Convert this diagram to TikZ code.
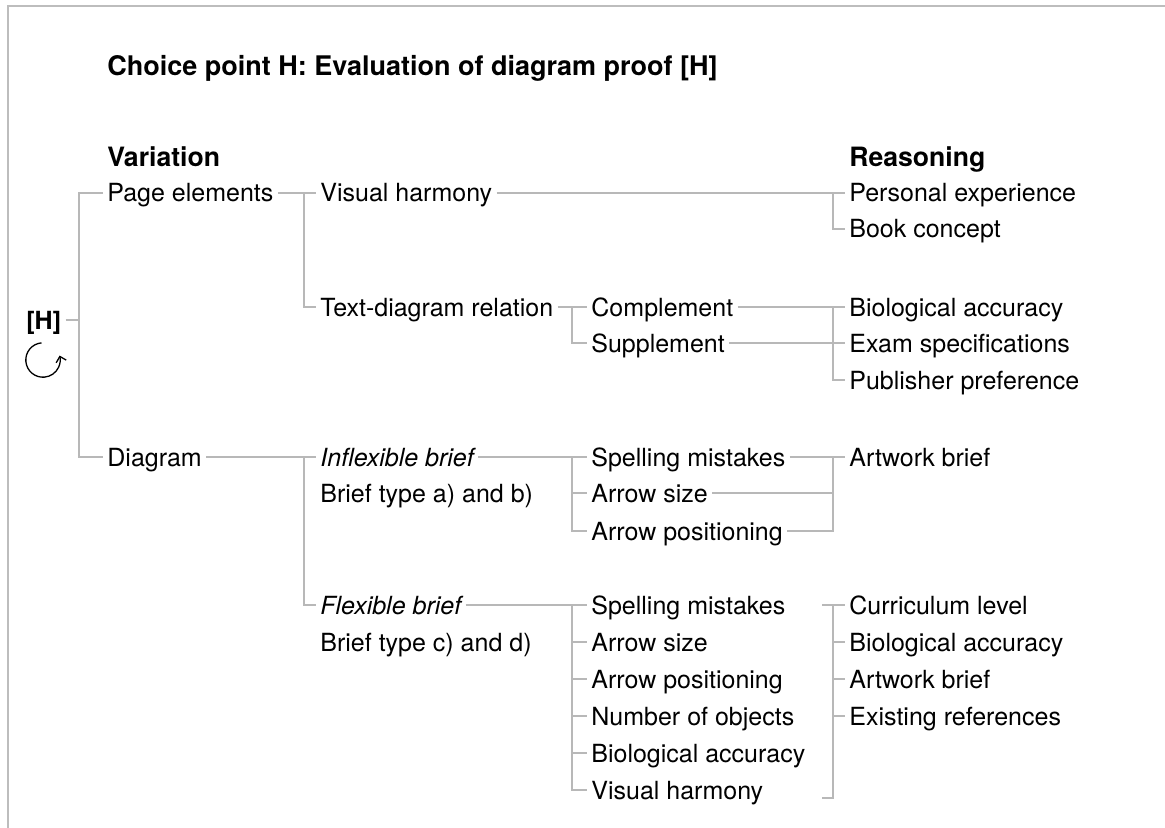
\documentclass[tikz,border=0pt]{standalone}
\usepackage{fontspec}
\setmainfont{TeX Gyre Heros}
\usepackage{tikz}
\usetikzlibrary{arrows.meta,calc}
\definecolor{frameGrey}{HTML}{BDBDBD}
\definecolor{linkGrey}{HTML}{B8B8B8}

\begin{document}
\begin{tikzpicture}[
    x=0.5pt, y=-0.5pt,
    font=\fontsize{12.5}{15}\selectfont,
    lbl/.style={anchor=west, inner xsep=2pt, inner ysep=0pt, text height=9pt, text depth=0pt},
    head/.style={lbl, text height=9.6pt, font=\fontsize{13.3}{16}\selectfont\bfseries},
    link/.style={draw=linkGrey, line width=0.65pt}
  ]
    \useasboundingbox (0,0) rectangle (1165,828);
    \draw[frameGrey, line width=1pt] (8,828) -- (8,6) -- (1165,6);

    \coordinate (jA) at (79,0);
    \coordinate (jB) at (304,0);
    \coordinate (jC) at (572,0);
    \coordinate (jD) at (833,0);

    \node[head, font=\fontsize{13.5}{16}\selectfont\bfseries] (title) at (103,66) {Choice point H: Evaluation of diagram proof [H]};
    \node[head] (var) at (103,157) {Variation};
    \node[head] (reas) at (845,157) {Reasoning};

    \node[lbl, font=\fontsize{12.5}{15}\selectfont\bfseries] (hh) at (22,320) {[H]};
    \coordinate (cyc) at (43,360);

    \node[lbl] (page) at (103,193) {Page elements};
    \node[lbl] (diag) at (103,457) {Diagram};

    \node[lbl] (visual) at (316,193) {Visual harmony};
    \node[lbl] (textrel) at (316,307) {Text-diagram relation};
    \node[lbl] (comp) at (587,307) {Complement};
    \node[lbl] (supp) at (587,343) {Supplement};

    \node[lbl] (pers) at (845,193) {Personal experience};
    \node[lbl] (book) at (845,229) {Book concept};
    \node[lbl] (bio) at (845,307) {Biological accuracy};
    \node[lbl] (exam) at (845,343) {Exam specifications};
    \node[lbl] (publ) at (845,380) {Publisher preference};

    \node[lbl] (inflex) at (316,457) {\itshape Inflexible brief\ };
    \node[lbl] (brab) at (316,493) {Brief type a) and b)};
    \node[lbl] (sp1) at (587,457) {Spelling mistakes};
    \node[lbl] (as1) at (587,493) {Arrow size};
    \node[lbl] (ap1) at (587,531) {Arrow positioning};
    \node[lbl] (art1) at (845,457) {Artwork brief};

    \node[lbl] (flex) at (316,605) {\itshape Flexible brief\ };
    \node[lbl] (brcd) at (316,642) {Brief type c) and d)};
    \node[lbl] (sp2) at (587,605) {Spelling mistakes};
    \node[lbl] (as2) at (587,642) {Arrow size};
    \node[lbl] (ap2) at (587,679) {Arrow positioning};
    \node[lbl] (nob) at (587,716) {Number of objects};
    \node[lbl] (bio2) at (587,753) {Biological accuracy};
    \node[lbl] (vh2) at (587,790) {Visual harmony};
    \node[lbl] (cur) at (845,605) {Curriculum level};
    \node[lbl] (bio3) at (845,642) {Biological accuracy};
    \node[lbl] (art2) at (845,679) {Artwork brief};
    \node[lbl] (exist) at (845,716) {Existing references};
    \coordinate (fTop) at (822,605);
    \coordinate (fEnd) at (822,798);

    \draw[line width=0.65pt, -{Straight Barb[length=2.6pt,width=5.2pt]}]
      (cyc) ++(95:8.6pt) arc[start angle=95, end angle=375, radius=8.6pt];

    % root
    \draw[link] (hh.east) -- (hh.east -| jA);
    \draw[link] (page.west) -- (page.west -| jA) |- (diag.west);

    % page elements
    \draw[link] (page.east) -- (visual.west);
    \draw[link] (visual.west -| jB) |- (textrel.west);
    \draw[link] (visual.east) -- (pers.west);
    \draw[link] (pers.west -| jD) |- (book.west);
    \draw[link] (textrel.east) -- (comp.west);
    \draw[link] (comp.west -| jC) |- (supp.west);
    \draw[link] (comp.east) -- (bio.west);
    \draw[link] (supp.east) -- (exam.west);
    \draw[link] (bio.west -| jD) |- (publ.west);

    % diagram
    \draw[link] (diag.east) -- (inflex.west);
    \draw[link] (inflex.west -| jB) |- (flex.west);
    \draw[link] (inflex.east) -- (sp1.west);
    \draw[link] (sp1.west -| jC) |- (ap1.west);
    \draw[link] (as1.west -| jC) -- (as1.west);
    \draw[link] (sp1.east) -- (art1.west);
    \draw[link] (as1.east) -- (as1.east -| jD);
    \draw[link] (art1.west -| jD) |- (ap1.east);

    \draw[link] (flex.east) -- (sp2.west);
    \draw[link] (sp2.west -| jC) |- (vh2.west);
    \foreach \n in {as2,ap2,nob,bio2}
      \draw[link] (\n.west -| jC) -- (\n.west);
    \draw[link] (fTop) -- (cur.west);
    \draw[link] (cur.west -| jD) |- (fEnd);
    \foreach \n in {bio3,art2,exist}
      \draw[link] (\n.west -| jD) -- (\n.west);
\end{tikzpicture}
\end{document}
